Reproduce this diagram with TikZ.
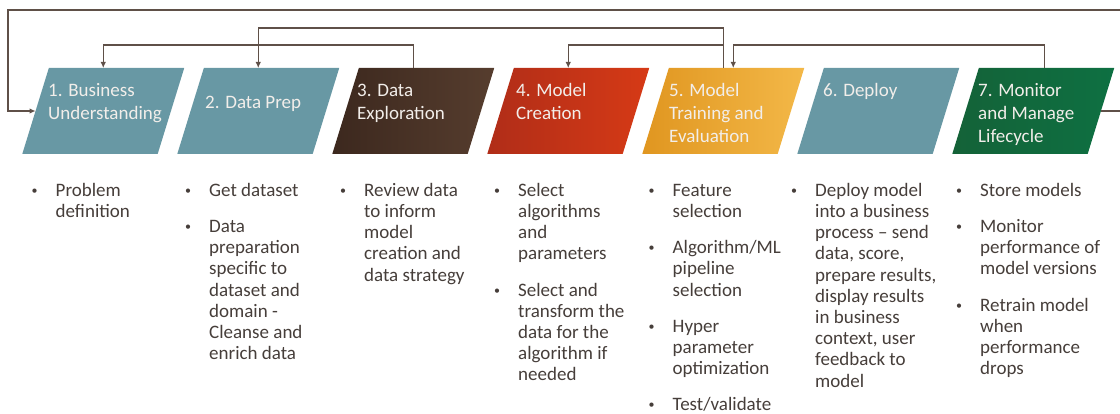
\documentclass[tikz,border=0pt]{standalone}
\usepackage{fontspec}
\setmainfont{Carlito}
\usepackage{xcolor}
\usetikzlibrary{shapes.geometric,arrows.meta}
\definecolor{teal}{RGB}{104,152,164}
\definecolor{brownL}{RGB}{60,40,30}
\definecolor{brownR}{RGB}{86,61,46}
\definecolor{redL}{RGB}{176,45,24}
\definecolor{redR}{RGB}{214,58,22}
\definecolor{goldL}{RGB}{224,150,32}
\definecolor{goldR}{RGB}{243,184,72}
\definecolor{greenL}{RGB}{20,98,56}
\definecolor{greenR}{RGB}{14,112,66}
\definecolor{boxtext}{RGB}{242,238,234}
\definecolor{itemtext}{RGB}{70,62,58}
\definecolor{linkcol}{RGB}{95,80,72}

\tikzset{
  stage/.style={trapezium, trapezium stretches=true,
    trapezium left angle=76.28, trapezium right angle=103.72,
    minimum width=162pt, minimum height=86pt, inner sep=2pt, outer sep=0pt},
  stagetext/.style={anchor=north west, inner sep=0pt, align=left,
    text=boxtext, font=\fontsize{19}{23.3}\selectfont},
  items/.style={anchor=north west, inner sep=0pt, align=left,
    text=itemtext, font=\fontsize{19}{21.2}\selectfont},
  link/.style={draw=linkcol, line width=1.4pt, -{Latex[length=6pt,width=5.5pt]}}
}
\newcommand{\bul}{\strut\llap{\raisebox{2pt}{\fontsize{12}{12}\selectfont\textbullet}\hspace{18pt}}}

\begin{document}
\begin{tikzpicture}[x=1pt,y=-1pt]
                \useasboundingbox (0,0) rectangle (1120,414);
                \fill[white] (0,0) rectangle (1120,414);
                \clip (0,0) rectangle (1120,414);

                % Stages
                \node[stage, fill=teal] (b1) at (103.25,111) {};
                \node[stage, fill=teal] (b2) at (258.25,111) {};
                \node[stage, left color=brownL, right color=brownR] (b3) at (413.25,111) {};
                \node[stage, left color=redL, right color=redR] (b4) at (568.25,111) {};
                \node[stage, left color=goldL, right color=goldR] (b5) at (723.25,111) {};
                \node[stage, fill=teal] (b6) at (878.25,111) {};
                \node[stage, left color=greenL, right color=greenR] (b7) at (1033.25,111) {};

                \node[stagetext] (t1) at (48,79.7) {\strut 1. Business\\Understanding};
                \node[stagetext] (t2) at (205,91.7) {\strut 2. Data Prep};
                \node[stagetext] (t3) at (357,79.7) {\strut 3. Data\\Exploration};
                \node[stagetext] (t4) at (516,79.7) {\strut 4. Model\\Creation};
                \node[stagetext] (t5) at (669,79.7) {\strut 5. Model\\Training and\\Evaluation};
                \node[stagetext] (t6) at (823,79.7) {\strut 6. Deploy};
                \node[stagetext] (t7) at (978,79.7) {\strut 7. Monitor\\and Manage\\Lifecycle};

                % Feedback arrows
                \draw[link] (b3.north) -- ++(0,-23) -| (b1.north);
                \draw[link] (b5.north) -- ++(0,-40) -| (b2.north);
                \draw[link] (b5.north) -- ++(0,-23) -| (b4.north);
                \draw[link] ([xshift=11pt]b7.north) -- ++(0,-23) -| ([xshift=10pt]b5.north);
                \draw[link] (b7.east) -- ++(40,0) |- (8,10) |- (b1.west);

                % Bullets
                \node[items] (c1) at (55.5,181.2) {\bul Problem\\definition};
                \node[items] (c2) at (209,181.2) {\bul Get dataset\\[15pt]\bul Data\\preparation\\specific to\\dataset and\\domain -\\Cleanse and\\enrich data};
                \node[items] (c3) at (364,181.2) {\bul Review data\\to inform\\model\\creation and\\data strategy};
                \node[items] (c4) at (518,181.2) {\bul Select\\algorithms\\and\\parameters\\[15pt]\bul Select and\\transform the\\data for the\\algorithm if\\needed};
                \node[items] (c5) at (672.5,181.2) {\bul Feature\\selection\\[15pt]\bul Algorithm/ML\\pipeline\\selection\\[15pt]\bul Hyper\\parameter\\optimization\\[15pt]\bul Test/validate};
                \node[items] (c6) at (815,181.2) {\bul Deploy model\\into a business\\process – send\\data, score,\\prepare results,\\display results\\in business\\context, user\\feedback to\\model};
                \node[items] (c7) at (980,181.2) {\bul Store models\\[15pt]\bul Monitor\\performance of\\model versions\\[15pt]\bul Retrain model\\when\\performance\\drops};
            \end{tikzpicture}
\end{document}
